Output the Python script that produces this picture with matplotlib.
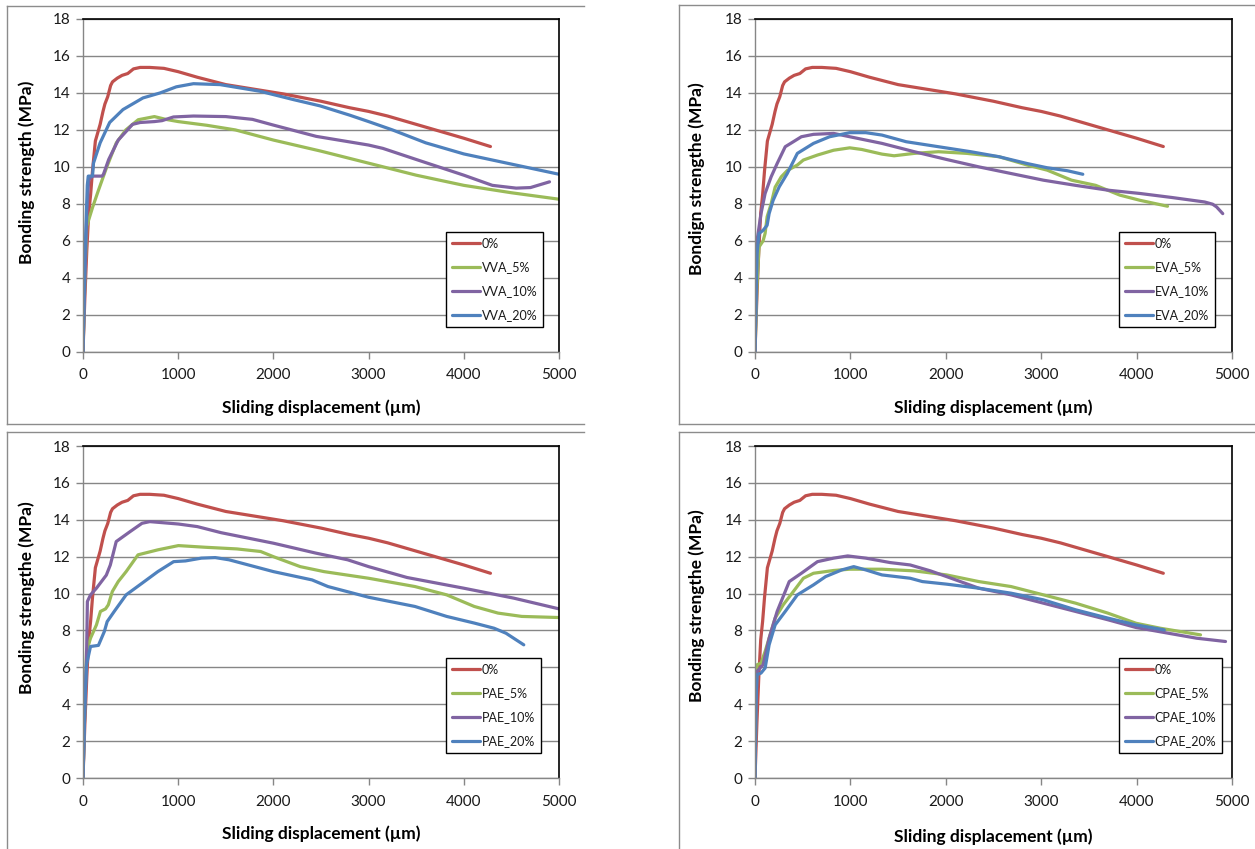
import matplotlib
matplotlib.use("Agg")
import matplotlib.pyplot as plt
from matplotlib.lines import Line2D

plt.rcParams['font.family'] = ['Lato', 'DejaVu Sans']

W, H = 1255, 849

# ---------------- data ----------------
ref_x = [0, 20, 40, 60, 80, 100, 130, 180, 210, 230, 260, 290, 310, 360, 410, 470, 530, 600,
         700, 850, 1000, 1200, 1500, 1800, 2100, 2500, 2800, 3000, 3200, 3500, 3800, 4000, 4280]
ref_y = [0, 3, 5.5, 7.5, 8.5, 9.8, 11.4, 12.3, 13.0, 13.4, 13.8, 14.4, 14.6, 14.8, 14.95, 15.05,
         15.3, 15.38, 15.38, 15.33, 15.15, 14.85, 14.45, 14.2, 13.95, 13.55, 13.2, 13.0, 12.75,
         12.3, 11.85, 11.55, 11.1]

vva5_x = [0, 20, 40, 70, 100, 160, 250, 350, 450, 580, 750, 870, 1000, 1300, 1600, 2000, 2500,
          3000, 3500, 4000, 4500, 5000]
vva5_y = [0, 4, 6.8, 7.3, 7.8, 8.7, 10.0, 11.3, 12.0, 12.55, 12.72, 12.57, 12.45, 12.25, 12.0,
          11.45, 10.85, 10.2, 9.55, 9.0, 8.6, 8.25]
vva10_x = [0, 20, 40, 60, 100, 200, 215, 270, 370, 450, 520, 600, 750, 830, 950, 1160, 1500,
           1780, 2000, 2450, 3000, 3150, 3500, 4000, 4300, 4550, 4700, 4900]
vva10_y = [0, 4, 7.5, 9.3, 9.5, 9.5, 9.6, 10.4, 11.45, 11.9, 12.3, 12.4, 12.45, 12.5, 12.7,
           12.75, 12.72, 12.57, 12.26, 11.65, 11.18, 11.0, 10.4, 9.55, 9.0, 8.85, 8.88, 9.19]
vva20_x = [0, 20, 45, 55, 100, 110, 180, 280, 420, 630, 810, 980, 1160, 1440, 1860, 2210, 2490,
           2800, 3000, 3250, 3600, 4000, 4500, 5000]
vva20_y = [0, 5, 9.0, 9.5, 9.5, 10.2, 11.3, 12.4, 13.1, 13.73, 14.0, 14.33, 14.5, 14.45, 14.09,
           13.64, 13.3, 12.8, 12.45, 12.0, 11.3, 10.7, 10.15, 9.6]

eva5_x = [0, 20, 42, 85, 106, 127, 169, 211, 275, 338, 444, 507, 655, 824, 993, 1120, 1331, 1458,
          1670, 1923, 2219, 2557, 2853, 3064, 3318, 3571, 3825, 4036, 4324]
eva5_y = [0, 3.5, 5.66, 6.0, 6.4, 7.3, 8.0, 8.9, 9.46, 9.8, 10.1, 10.37, 10.64, 10.9, 11.03,
          10.94, 10.69, 10.6, 10.73, 10.82, 10.73, 10.55, 10.1, 9.82, 9.28, 9.0, 8.47, 8.19, 7.87]
eva10_x = [0, 21, 63, 106, 169, 232, 317, 402, 486, 613, 824, 993, 1331, 1670, 2008, 2346, 2684,
           3022, 3360, 3698, 4036, 4374, 4713, 4797, 4839, 4903]
eva10_y = [0, 6.0, 7.47, 8.56, 9.46, 10.18, 11.09, 11.36, 11.63, 11.76, 11.81, 11.63, 11.27,
           10.82, 10.4, 10.0, 9.64, 9.28, 9.0, 8.74, 8.56, 8.34, 8.1, 7.98, 7.83, 7.47]
eva20_x = [0, 21, 42, 85, 127, 148, 190, 254, 338, 444, 613, 782, 993, 1162, 1331, 1585, 1923,
           2261, 2557, 2853, 3064, 3275, 3436]
eva20_y = [0, 5.3, 6.39, 6.57, 6.84, 7.47, 8.19, 8.92, 9.64, 10.73, 11.27, 11.63, 11.85, 11.85,
           11.72, 11.36, 11.09, 10.82, 10.55, 10.18, 9.95, 9.79, 9.6]

pae5_x = [0, 20, 37, 79, 141, 183, 237, 266, 308, 370, 453, 578, 786, 1002, 1284, 1617, 1866,
          2000, 2282, 2531, 3000, 3487, 3820, 4110, 4360, 4609, 5000]
pae5_y = [0, 4, 6.86, 7.58, 8.3, 9.03, 9.17, 9.39, 10.11, 10.65, 11.19, 12.1, 12.37, 12.6,
          12.51, 12.42, 12.28, 12.0, 11.46, 11.19, 10.83, 10.38, 9.93, 9.3, 8.94, 8.76, 8.7]
pae10_x = [0, 20, 37, 46, 79, 141, 245, 287, 349, 495, 620, 702, 1002, 1201, 1451, 2000, 2448,
           2780, 3000, 3404, 4000, 4526, 5000]
pae10_y = [0, 4, 6.5, 9.57, 9.93, 10.29, 11.0, 11.55, 12.82, 13.36, 13.81, 13.9, 13.77, 13.63,
           13.3, 12.73, 12.19, 11.83, 11.46, 10.87, 10.29, 9.75, 9.17]
pae20_x = [0, 20, 37, 79, 162, 224, 254, 328, 453, 620, 786, 952, 1077, 1243, 1389, 1534, 2000,
           2406, 2573, 3000, 3487, 3820, 4110, 4318, 4443, 4630]
pae20_y = [0, 4, 6.14, 7.13, 7.19, 7.94, 8.48, 9.03, 9.93, 10.56, 11.19, 11.73, 11.77, 11.92,
           11.95, 11.83, 11.19, 10.74, 10.38, 9.8, 9.3, 8.76, 8.4, 8.12, 7.85, 7.22]

cpae5_x = [0, 10, 21, 63, 106, 148, 211, 296, 402, 507, 613, 824, 993, 1331, 1670, 2008, 2346,
           2684, 3022, 3360, 3698, 3994, 4248, 4459, 4670]
cpae5_y = [0, 4, 6.14, 6.23, 6.86, 7.58, 8.67, 9.39, 10.11, 10.83, 11.1, 11.25, 11.32, 11.32,
           11.23, 11.01, 10.65, 10.38, 9.93, 9.48, 8.94, 8.39, 8.12, 7.94, 7.76]
cpae10_x = [0, 10, 21, 85, 148, 232, 359, 486, 655, 824, 972, 1162, 1416, 1627, 1839, 2008, 2346,
            2684, 3022, 3360, 3698, 3994, 4332, 4628, 4932]
cpae10_y = [0, 4, 5.78, 6.14, 7.58, 9.03, 10.65, 11.1, 11.73, 11.92, 12.04, 11.92, 11.68, 11.55,
            11.23, 10.92, 10.29, 9.93, 9.48, 9.03, 8.58, 8.16, 7.85, 7.58, 7.4]
cpae20_x = [0, 10, 21, 63, 106, 148, 211, 317, 444, 613, 740, 909, 1035, 1162, 1331, 1627, 1754,
            2008, 2346, 2684, 3022, 3360, 3698, 3994, 4290]
cpae20_y = [0, 4, 5.6, 5.69, 5.96, 7.22, 8.3, 9.03, 9.93, 10.47, 10.92, 11.28, 11.46, 11.28,
            11.01, 10.83, 10.65, 10.51, 10.29, 10.02, 9.66, 9.12, 8.67, 8.3, 8.03]

panel_prefixes = ['VVA', 'EVA', 'PAE', 'CPAE']
panel_ylabels = ['Bonding strength (MPa)', 'Bondign strengthe (MPa)',
                 'Bonding strengthe (MPa)', 'Bonding strengthe (MPa)']
xlabel_text = 'Sliding displacement (\u00b5m)'
ref_label = '0%'
series_suffix = ['5%', '10%', '20%']
panel_series = [
    [(vva5_x, vva5_y), (vva10_x, vva10_y), (vva20_x, vva20_y)],
    [(eva5_x, eva5_y), (eva10_x, eva10_y), (eva20_x, eva20_y)],
    [(pae5_x, pae5_y), (pae10_x, pae10_y), (pae20_x, pae20_y)],
    [(cpae5_x, cpae5_y), (cpae10_x, cpae10_y), (cpae20_x, cpae20_y)],
]
x_ticks = [0, 1000, 2000, 3000, 4000, 5000]
y_ticks = [0, 2, 4, 6, 8, 10, 12, 14, 16, 18]

# ---------------- style ----------------
colors = ['#C0504D', '#9BBB59', '#8064A2', '#4F81BD']
grid_c = '#868686'
lw = 2.3

fig = plt.figure(figsize=(W / 100, H / 100), dpi=100)
fig.patch.set_facecolor('white')

# pixel geometry of plot areas: (left, top, right, bottom)
areas = [(83, 19, 559, 351.7), (755, 19, 1232, 351.7),
         (83, 446, 559, 778), (755, 446, 1232, 778)]
legend_boxes = [(446, 232), (1119, 232), (446, 658), (1119, 658)]
ylabel_pos = [(27, 172), (697, 179), (27, 598), (697, 606)]
xlabel_y = [408, 408, 834, 837]


def fx(px):
    return px / W


def fy(py):
    return 1 - py / H


# panel frames (outer borders)
frame_c = '#8c8c8c'
frames = [
    [((7, 6), (584, 6)), ((7, 6), (7, 424)), ((7, 424), (584, 424))],
    [((679, 5), (1255, 5)), ((679, 5), (679, 424)), ((679, 424), (1255, 424))],
    [((7, 432), (584, 432)), ((7, 432), (7, 849))],
    [((679, 432), (1255, 432)), ((679, 432), (679, 849))],
]
for segs in frames:
    for (a, b) in segs:
        fig.add_artist(Line2D([fx(a[0]), fx(b[0])], [fy(a[1]), fy(b[1])],
                              transform=fig.transFigure, color=frame_c, lw=1.0))

for i in range(4):
    l, t, r, b = areas[i]
    ax = fig.add_axes([fx(l), fy(b), (r - l) / W, (b - t) / H])
    ax.set_xlim(0, 5000)
    ax.set_ylim(0, 18)
    ax.set_xticks(x_ticks)
    ax.set_yticks(y_ticks)
    ax.yaxis.grid(True, color=grid_c, lw=1.0)
    ax.set_axisbelow(True)
    for s in ['top', 'right']:
        ax.spines[s].set_color('black')
        ax.spines[s].set_linewidth(1.2)
    for s in ['left', 'bottom']:
        ax.spines[s].set_color(grid_c)
        ax.spines[s].set_linewidth(1.0)
    ax.tick_params(axis='both', direction='out', length=5, width=1, color=grid_c,
                   labelsize=11, labelcolor='#1a1a1a')
    ax.tick_params(axis='x', pad=7)
    ax.tick_params(axis='y', pad=4)

    handles = []
    h, = ax.plot(ref_x, ref_y, color=colors[0], lw=lw, solid_joinstyle='round',
                 solid_capstyle='round', label=ref_label)
    handles.append(h)
    for k, (sx, sy) in enumerate(panel_series[i]):
        h, = ax.plot(sx, sy, color=colors[k + 1], lw=lw, solid_joinstyle='round',
                     solid_capstyle='round',
                     label=panel_prefixes[i] + '_' + series_suffix[k])
        handles.append(h)

    lx, ly = legend_boxes[i]
    leg = ax.legend(handles=handles, loc='upper left',
                    bbox_to_anchor=((lx - l) / (r - l), (b - ly) / (b - t)),
                    borderaxespad=0, fontsize=9, frameon=True, fancybox=False,
                    edgecolor='black', framealpha=1, handlelength=2.3,
                    handletextpad=0.1, labelspacing=0.95, borderpad=0.45)
    leg.get_frame().set_linewidth(1.0)
    for txt in leg.get_texts():
        txt.set_color('#1a1a1a')

    yx, yy = ylabel_pos[i]
    fig.text(fx(yx), fy(yy), panel_ylabels[i], rotation=90,
             ha='center', va='center', fontsize=12.5, fontweight='bold', color='black')
    fig.text(fx((l + r) / 2), fy(xlabel_y[i]), xlabel_text, ha='center', va='center',
             fontsize=12.5, fontweight='bold', color='black')

fig.savefig('out.png', dpi=100, facecolor='white')
